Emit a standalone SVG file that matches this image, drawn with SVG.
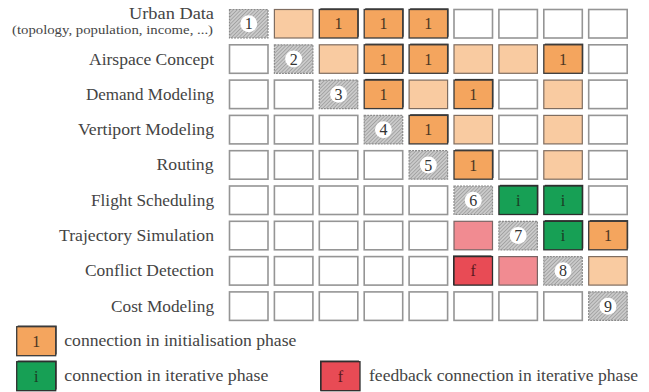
<svg xmlns="http://www.w3.org/2000/svg" width="649" height="392" viewBox="0 0 649 392" font-family="'Liberation Serif', 'DejaVu Serif', 'Times New Roman', serif">
<defs>
<pattern id="hatch" patternUnits="userSpaceOnUse" width="2.6" height="2.6" patternTransform="rotate(45)">
<rect width="2.6" height="2.6" fill="#cacaca"/>
<line x1="0" y1="0" x2="0" y2="2.6" stroke="#8a8a8a" stroke-width="1.1"/>
</pattern>
</defs>
<style>
.lbl{font-size:16px;fill:#444;text-anchor:end;}
.sub{font-size:13px;fill:#444;text-anchor:end;}
.leg{font-size:16px;fill:#444;}
.w{fill:#fff;stroke:#959595;stroke-width:1.6;}
.lo{fill:#F9CBA1;stroke:#7f6d60;stroke-width:1.2;}
.pk{fill:#F18B91;stroke:#7a6464;stroke-width:1.2;}
.sh{fill:#333;}
.do{fill:#F4A55E;stroke:#3a3a3a;stroke-width:1.3;}
.gr{fill:#17A055;stroke:#2e2e2e;stroke-width:1.3;}
.rd{fill:#E84B55;stroke:#2e2e2e;stroke-width:1.3;}
.ht{fill:url(#hatch);stroke:#8a8a8a;stroke-width:1.2;stroke-dasharray:2 1;}
.ci{fill:#fff;}
.num{font-size:16px;fill:#333;text-anchor:middle;}
.c1{font-size:16px;fill:#4a3522;text-anchor:middle;}
.ci1{font-size:16px;fill:#1c3a24;text-anchor:middle;}
.cf{font-size:16px;fill:#5a1a1e;text-anchor:middle;}
</style>

<g id="labels" font-family="'Liberation Serif', 'DejaVu Serif', serif">
<text class="lbl" x="214" y="18.5" textLength="85" lengthAdjust="spacingAndGlyphs">Urban Data</text>
<text class="sub" x="213" y="34" textLength="201" lengthAdjust="spacingAndGlyphs">(topology, population, income, ...)</text>
<text class="lbl" x="214" y="64.5" textLength="125" lengthAdjust="spacingAndGlyphs">Airspace Concept</text>
<text class="lbl" x="214" y="99.8" textLength="128" lengthAdjust="spacingAndGlyphs">Demand Modeling</text>
<text class="lbl" x="214" y="135.1" textLength="136" lengthAdjust="spacingAndGlyphs">Vertiport Modeling</text>
<text class="lbl" x="213.5" y="170.4" textLength="57" lengthAdjust="spacingAndGlyphs">Routing</text>
<text class="lbl" x="214" y="205.7" textLength="123" lengthAdjust="spacingAndGlyphs">Flight Scheduling</text>
<text class="lbl" x="214" y="241" textLength="155" lengthAdjust="spacingAndGlyphs">Trajectory Simulation</text>
<text class="lbl" x="214" y="276.3" textLength="129" lengthAdjust="spacingAndGlyphs">Conflict Detection</text>
<text class="lbl" x="214" y="311.6" textLength="103" lengthAdjust="spacingAndGlyphs">Cost Modeling</text>
</g>

<g id="matrix" font-family="'Liberation Serif', 'DejaVu Serif', serif">
<g id="r1">
<g id="r1c1"><rect class="ht" x="229.5" y="9.5" width="38.5" height="28.5"/><circle class="ci" cx="248.75" cy="23.75" r="8.5"/><text class="num" x="248.75" y="29.3">1</text></g>
<g id="r1c2"><rect class="lo" x="274.4" y="9.5" width="38.5" height="28.5"/></g>
<g id="r1c3"><rect class="sh" x="320.3" y="8.3" width="38.5" height="28.5"/><rect class="do" x="319.3" y="9.5" width="38.5" height="28.5"/><text class="c1" x="338.55" y="29.3">1</text></g>
<g id="r1c4"><rect class="sh" x="365.2" y="8.3" width="38.5" height="28.5"/><rect class="do" x="364.2" y="9.5" width="38.5" height="28.5"/><text class="c1" x="383.45" y="29.3">1</text></g>
<g id="r1c5"><rect class="sh" x="410.1" y="8.3" width="38.5" height="28.5"/><rect class="do" x="409.1" y="9.5" width="38.5" height="28.5"/><text class="c1" x="428.35" y="29.3">1</text></g>
<g id="r1c6"><rect class="w" x="454" y="9.5" width="38.5" height="28.5"/></g>
<g id="r1c7"><rect class="w" x="498.9" y="9.5" width="38.5" height="28.5"/></g>
<g id="r1c8"><rect class="w" x="543.8" y="9.5" width="38.5" height="28.5"/></g>
<g id="r1c9"><rect class="w" x="588.7" y="9.5" width="38.5" height="28.5"/></g>
</g>
<g id="r2">
<g id="r2c1"><rect class="w" x="229.5" y="44.8" width="38.5" height="28.5"/></g>
<g id="r2c2"><rect class="ht" x="274.4" y="44.8" width="38.5" height="28.5"/><circle class="ci" cx="293.65" cy="59.05" r="8.5"/><text class="num" x="293.65" y="64.6">2</text></g>
<g id="r2c3"><rect class="lo" x="319.3" y="44.8" width="38.5" height="28.5"/></g>
<g id="r2c4"><rect class="sh" x="365.2" y="43.6" width="38.5" height="28.5"/><rect class="do" x="364.2" y="44.8" width="38.5" height="28.5"/><text class="c1" x="383.45" y="64.6">1</text></g>
<g id="r2c5"><rect class="sh" x="410.1" y="43.6" width="38.5" height="28.5"/><rect class="do" x="409.1" y="44.8" width="38.5" height="28.5"/><text class="c1" x="428.35" y="64.6">1</text></g>
<g id="r2c6"><rect class="lo" x="454" y="44.8" width="38.5" height="28.5"/></g>
<g id="r2c7"><rect class="lo" x="498.9" y="44.8" width="38.5" height="28.5"/></g>
<g id="r2c8"><rect class="sh" x="544.8" y="43.6" width="38.5" height="28.5"/><rect class="do" x="543.8" y="44.8" width="38.5" height="28.5"/><text class="c1" x="563.05" y="64.6">1</text></g>
<g id="r2c9"><rect class="w" x="588.7" y="44.8" width="38.5" height="28.5"/></g>
</g>
<g id="r3">
<g id="r3c1"><rect class="w" x="229.5" y="80.1" width="38.5" height="28.5"/></g>
<g id="r3c2"><rect class="w" x="274.4" y="80.1" width="38.5" height="28.5"/></g>
<g id="r3c3"><rect class="ht" x="319.3" y="80.1" width="38.5" height="28.5"/><circle class="ci" cx="338.55" cy="94.35" r="8.5"/><text class="num" x="338.55" y="99.9">3</text></g>
<g id="r3c4"><rect class="sh" x="365.2" y="78.9" width="38.5" height="28.5"/><rect class="do" x="364.2" y="80.1" width="38.5" height="28.5"/><text class="c1" x="383.45" y="99.9">1</text></g>
<g id="r3c5"><rect class="lo" x="409.1" y="80.1" width="38.5" height="28.5"/></g>
<g id="r3c6"><rect class="sh" x="455" y="78.9" width="38.5" height="28.5"/><rect class="do" x="454" y="80.1" width="38.5" height="28.5"/><text class="c1" x="473.25" y="99.9">1</text></g>
<g id="r3c7"><rect class="w" x="498.9" y="80.1" width="38.5" height="28.5"/></g>
<g id="r3c8"><rect class="lo" x="543.8" y="80.1" width="38.5" height="28.5"/></g>
<g id="r3c9"><rect class="w" x="588.7" y="80.1" width="38.5" height="28.5"/></g>
</g>
<g id="r4">
<g id="r4c1"><rect class="w" x="229.5" y="115.4" width="38.5" height="28.5"/></g>
<g id="r4c2"><rect class="w" x="274.4" y="115.4" width="38.5" height="28.5"/></g>
<g id="r4c3"><rect class="w" x="319.3" y="115.4" width="38.5" height="28.5"/></g>
<g id="r4c4"><rect class="ht" x="364.2" y="115.4" width="38.5" height="28.5"/><circle class="ci" cx="383.45" cy="129.65" r="8.5"/><text class="num" x="383.45" y="135.2">4</text></g>
<g id="r4c5"><rect class="sh" x="410.1" y="114.2" width="38.5" height="28.5"/><rect class="do" x="409.1" y="115.4" width="38.5" height="28.5"/><text class="c1" x="428.35" y="135.2">1</text></g>
<g id="r4c6"><rect class="lo" x="454" y="115.4" width="38.5" height="28.5"/></g>
<g id="r4c7"><rect class="w" x="498.9" y="115.4" width="38.5" height="28.5"/></g>
<g id="r4c8"><rect class="lo" x="543.8" y="115.4" width="38.5" height="28.5"/></g>
<g id="r4c9"><rect class="w" x="588.7" y="115.4" width="38.5" height="28.5"/></g>
</g>
<g id="r5">
<g id="r5c1"><rect class="w" x="229.5" y="150.7" width="38.5" height="28.5"/></g>
<g id="r5c2"><rect class="w" x="274.4" y="150.7" width="38.5" height="28.5"/></g>
<g id="r5c3"><rect class="w" x="319.3" y="150.7" width="38.5" height="28.5"/></g>
<g id="r5c4"><rect class="w" x="364.2" y="150.7" width="38.5" height="28.5"/></g>
<g id="r5c5"><rect class="ht" x="409.1" y="150.7" width="38.5" height="28.5"/><circle class="ci" cx="428.35" cy="164.95" r="8.5"/><text class="num" x="428.35" y="170.5">5</text></g>
<g id="r5c6"><rect class="sh" x="455" y="149.5" width="38.5" height="28.5"/><rect class="do" x="454" y="150.7" width="38.5" height="28.5"/><text class="c1" x="473.25" y="170.5">1</text></g>
<g id="r5c7"><rect class="w" x="498.9" y="150.7" width="38.5" height="28.5"/></g>
<g id="r5c8"><rect class="lo" x="543.8" y="150.7" width="38.5" height="28.5"/></g>
<g id="r5c9"><rect class="w" x="588.7" y="150.7" width="38.5" height="28.5"/></g>
</g>
<g id="r6">
<g id="r6c1"><rect class="w" x="229.5" y="186" width="38.5" height="28.5"/></g>
<g id="r6c2"><rect class="w" x="274.4" y="186" width="38.5" height="28.5"/></g>
<g id="r6c3"><rect class="w" x="319.3" y="186" width="38.5" height="28.5"/></g>
<g id="r6c4"><rect class="w" x="364.2" y="186" width="38.5" height="28.5"/></g>
<g id="r6c5"><rect class="w" x="409.1" y="186" width="38.5" height="28.5"/></g>
<g id="r6c6"><rect class="ht" x="454" y="186" width="38.5" height="28.5"/><circle class="ci" cx="473.25" cy="200.25" r="8.5"/><text class="num" x="473.25" y="205.8">6</text></g>
<g id="r6c7"><rect class="sh" x="499.9" y="184.8" width="38.5" height="28.5"/><rect class="gr" x="498.9" y="186" width="38.5" height="28.5"/><text class="ci1" x="518.15" y="205.8">i</text></g>
<g id="r6c8"><rect class="sh" x="544.8" y="184.8" width="38.5" height="28.5"/><rect class="gr" x="543.8" y="186" width="38.5" height="28.5"/><text class="ci1" x="563.05" y="205.8">i</text></g>
<g id="r6c9"><rect class="w" x="588.7" y="186" width="38.5" height="28.5"/></g>
</g>
<g id="r7">
<g id="r7c1"><rect class="w" x="229.5" y="221.3" width="38.5" height="28.5"/></g>
<g id="r7c2"><rect class="w" x="274.4" y="221.3" width="38.5" height="28.5"/></g>
<g id="r7c3"><rect class="w" x="319.3" y="221.3" width="38.5" height="28.5"/></g>
<g id="r7c4"><rect class="w" x="364.2" y="221.3" width="38.5" height="28.5"/></g>
<g id="r7c5"><rect class="w" x="409.1" y="221.3" width="38.5" height="28.5"/></g>
<g id="r7c6"><rect class="pk" x="454" y="221.3" width="38.5" height="28.5"/></g>
<g id="r7c7"><rect class="ht" x="498.9" y="221.3" width="38.5" height="28.5"/><circle class="ci" cx="518.15" cy="235.55" r="8.5"/><text class="num" x="518.15" y="241.1">7</text></g>
<g id="r7c8"><rect class="sh" x="544.8" y="220.1" width="38.5" height="28.5"/><rect class="gr" x="543.8" y="221.3" width="38.5" height="28.5"/><text class="ci1" x="563.05" y="241.1">i</text></g>
<g id="r7c9"><rect class="sh" x="589.7" y="220.1" width="38.5" height="28.5"/><rect class="do" x="588.7" y="221.3" width="38.5" height="28.5"/><text class="c1" x="607.95" y="241.1">1</text></g>
</g>
<g id="r8">
<g id="r8c1"><rect class="w" x="229.5" y="256.6" width="38.5" height="28.5"/></g>
<g id="r8c2"><rect class="w" x="274.4" y="256.6" width="38.5" height="28.5"/></g>
<g id="r8c3"><rect class="w" x="319.3" y="256.6" width="38.5" height="28.5"/></g>
<g id="r8c4"><rect class="w" x="364.2" y="256.6" width="38.5" height="28.5"/></g>
<g id="r8c5"><rect class="w" x="409.1" y="256.6" width="38.5" height="28.5"/></g>
<g id="r8c6"><rect class="sh" x="453" y="255.4" width="38.5" height="29.7"/><rect class="rd" x="454" y="256.6" width="38.5" height="28.5"/><text class="cf" x="473.25" y="276.4">f</text></g>
<g id="r8c7"><rect class="pk" x="498.9" y="256.6" width="38.5" height="28.5"/></g>
<g id="r8c8"><rect class="ht" x="543.8" y="256.6" width="38.5" height="28.5"/><circle class="ci" cx="563.05" cy="270.85" r="8.5"/><text class="num" x="563.05" y="276.4">8</text></g>
<g id="r8c9"><rect class="lo" x="588.7" y="256.6" width="38.5" height="28.5"/></g>
</g>
<g id="r9">
<g id="r9c1"><rect class="w" x="229.5" y="291.9" width="38.5" height="28.5"/></g>
<g id="r9c2"><rect class="w" x="274.4" y="291.9" width="38.5" height="28.5"/></g>
<g id="r9c3"><rect class="w" x="319.3" y="291.9" width="38.5" height="28.5"/></g>
<g id="r9c4"><rect class="w" x="364.2" y="291.9" width="38.5" height="28.5"/></g>
<g id="r9c5"><rect class="w" x="409.1" y="291.9" width="38.5" height="28.5"/></g>
<g id="r9c6"><rect class="w" x="454" y="291.9" width="38.5" height="28.5"/></g>
<g id="r9c7"><rect class="w" x="498.9" y="291.9" width="38.5" height="28.5"/></g>
<g id="r9c8"><rect class="w" x="543.8" y="291.9" width="38.5" height="28.5"/></g>
<g id="r9c9"><rect class="ht" x="588.7" y="291.9" width="38.5" height="28.5"/><circle class="ci" cx="607.95" cy="306.15" r="8.5"/><text class="num" x="607.95" y="311.7">9</text></g>
</g>
</g>

<g id="connectors"></g>

<g id="legend" font-family="'Liberation Serif', 'DejaVu Serif', serif">
<g id="leg-init">
<rect class="sh" x="17.7" y="325.5" width="39" height="29"/><rect class="do" x="16.7" y="326.7" width="39" height="29"/><text class="c1" x="36.2" y="346.5">1</text>
<text class="leg" x="64.3" y="345.7" textLength="232" lengthAdjust="spacingAndGlyphs">connection in initialisation phase</text>
</g>
<g id="leg-iter">
<rect class="sh" x="17.7" y="360.5" width="39" height="29"/><rect class="gr" x="16.7" y="361.7" width="39" height="29"/><text class="ci1" x="36.2" y="381.5">i</text>
<text class="leg" x="64.3" y="380.7" textLength="204" lengthAdjust="spacingAndGlyphs">connection in iterative phase</text>
</g>
<g id="leg-feedback">
<rect class="sh" x="320" y="360.5" width="39" height="30.2"/><rect class="rd" x="321" y="361.7" width="39" height="29"/><text class="cf" x="340.5" y="381.5">f</text>
<text class="leg" x="369" y="380.7" textLength="269" lengthAdjust="spacingAndGlyphs">feedback connection in iterative phase</text>
</g>
</g>
</svg>
